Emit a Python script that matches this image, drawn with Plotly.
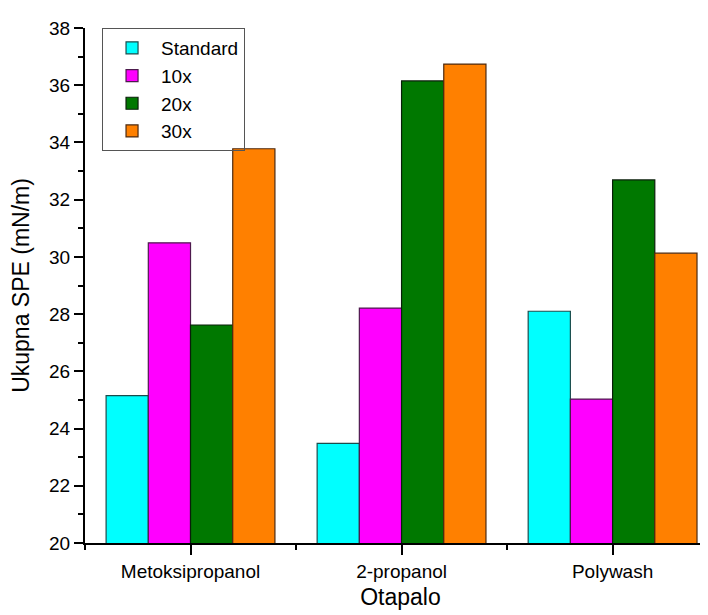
import plotly.graph_objects as go

categories = ["Metoksipropanol", "2-propanol", "Polywash"]
series_names = ["Standard", "10x", "20x", "30x"]
standard = [25.15, 23.48, 28.10]
x10 = [30.49, 28.21, 25.03]
x20 = [27.62, 36.15, 32.69]
x30 = [33.78, 36.74, 30.13]
y_ticks = [20, 22, 24, 26, 28, 30, 32, 34, 36, 38]

fills = ["#00FFFF", "#FF00FF", "#007800", "#FF8000"]
edges = ["#1a4d4d", "#4d1a4d", "#0a1f0a", "#4d2a10"]

xpos = list(range(len(categories)))
fig = go.Figure()
for name, vals, fc, ec in zip(series_names, [standard, x10, x20, x30], fills, edges):
    fig.add_trace(go.Bar(x=xpos, y=vals, name=name, marker=dict(color=fc, line=dict(color=ec, width=1.2))))

fig.update_layout(
    width=708, height=615,
    barmode="group", bargap=0.2, bargroupgap=0,
    plot_bgcolor="white", paper_bgcolor="white",
    margin=dict(l=77, r=0, t=20, b=80),
    font=dict(family="Arial, Liberation Sans, sans-serif", color="black", size=19),
    legend=dict(x=0.027, y=1.0, xanchor="left", yanchor="top",
                bgcolor="rgba(255,255,255,0)", bordercolor="#555", borderwidth=1,
                font=dict(size=19), tracegroupgap=0, itemwidth=48),
    showlegend=True,
)
fig.update_xaxes(
    range=[-0.5, 2.49], tickvals=xpos, ticktext=categories, automargin=False,
    showline=True, linecolor="black", linewidth=2,
    ticks="outside", ticklen=10, tickwidth=2, tickcolor="black",
    minor=dict(tick0=-0.5, dtick=1, ticks="outside", ticklen=5, tickwidth=2, tickcolor="black"),
    showgrid=False, zeroline=False,
    title=dict(text="Otapalo", font=dict(size=23), standoff=8),
    tickfont=dict(size=19),
)
fig.update_yaxes(
    range=[20, 38], tickvals=y_ticks, automargin=False,
    showline=True, linecolor="black", linewidth=2,
    ticks="outside", ticklen=9, tickwidth=2, tickcolor="black",
    minor=dict(dtick=1, ticks="outside", ticklen=5, tickwidth=2, tickcolor="black"),
    showgrid=False, zeroline=False,
    title=dict(text="Ukupna SPE (mN/m)", font=dict(size=23), standoff=14),
    tickfont=dict(size=19),
)
fig.write_html("out.html")
